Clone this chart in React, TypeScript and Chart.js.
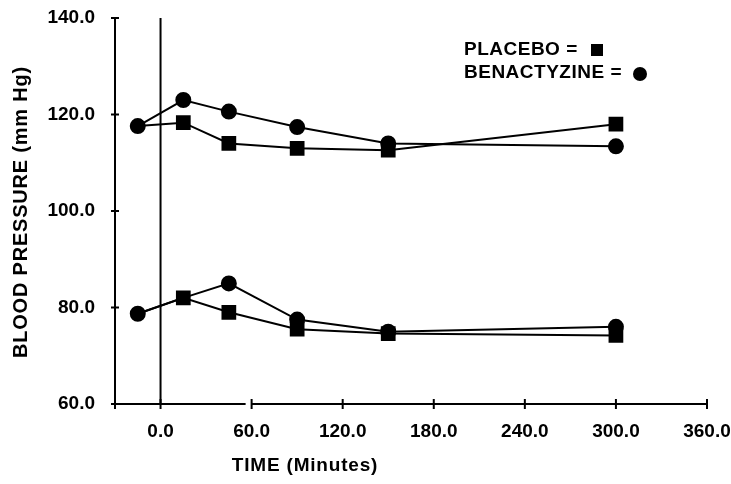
import React, { useEffect, useRef } from "react";
import { Chart, registerables } from "chart.js";

Chart.register(...registerables);

// Sampling times (minutes relative to dosing)
const times = [-15, 15, 45, 90, 150, 300];

// Systolic readings
const placeboSystolic = [117.6, 118.3, 114.0, 113.0, 112.6, 118.0];
const benactyzineSystolic = [117.6, 123.0, 120.6, 117.4, 114.0, 113.4];

// Diastolic readings
const placeboDiastolic = [78.7, 82.0, 79.0, 75.5, 74.6, 74.2];
const benactyzineDiastolic = [78.7, 82.0, 85.0, 77.5, 75.0, 76.0];

const xTicks = [-30, 0, 60, 120, 180, 240, 300, 360];
const yTicks = [60, 80, 100, 120, 140];

const FONT = '"Liberation Sans", Arial, Helvetica, sans-serif';

const toPoints = (vals: number[]) => vals.map((y, i) => ({ x: times[i], y }));

const axesPlugin = {
  id: "paperAxes",
  afterDraw(chart: any) {
    const { ctx, chartArea, scales } = chart;
    const xs = scales.x;
    const ys = scales.y;
    const left = chartArea.left;
    const right = chartArea.right;
    const top = chartArea.top;
    const bottom = chartArea.bottom;
    ctx.save();
    ctx.strokeStyle = "#000";
    ctx.fillStyle = "#000";
    ctx.lineWidth = 2;
    ctx.lineCap = "butt";

    // y axis
    ctx.beginPath();
    ctx.moveTo(left, top);
    ctx.lineTo(left, bottom);
    ctx.stroke();
    yTicks.forEach((v) => {
      const py = ys.getPixelForValue(v);
      ctx.beginPath();
      ctx.moveTo(left - 4, py);
      ctx.lineTo(left + 4, py);
      ctx.stroke();
    });

    // x axis, with a small break before the 60 tick
    const x60 = xs.getPixelForValue(60);
    ctx.beginPath();
    ctx.moveTo(xs.getPixelForValue(-30) - 2, bottom);
    ctx.lineTo(x60 - 6, bottom);
    ctx.moveTo(x60, bottom);
    ctx.lineTo(right, bottom);
    ctx.stroke();
    xTicks.forEach((v) => {
      const px = xs.getPixelForValue(v);
      ctx.beginPath();
      ctx.moveTo(px, bottom - 5);
      ctx.lineTo(px, bottom + 5);
      ctx.stroke();
    });

    // dosing line at time zero
    const x0 = xs.getPixelForValue(0);
    ctx.beginPath();
    ctx.moveTo(x0, top);
    ctx.lineTo(x0, bottom);
    ctx.stroke();

    // axis titles
    ctx.textAlign = "center";
    ctx.textBaseline = "middle";
    ctx.font = `bold 19px ${FONT}`;
    (ctx as any).letterSpacing = "0.8px";
    ctx.fillText("TIME (Minutes)", 305, 466);

    ctx.save();
    ctx.font = `bold 20px ${FONT}`;
    ctx.translate(21, 212);
    ctx.rotate(-Math.PI / 2);
    ctx.fillText("BLOOD PRESSURE (mm Hg)", 0, 0);
    ctx.restore();

    // key
    ctx.font = `bold 19px ${FONT}`;
    (ctx as any).letterSpacing = "0.5px";
    ctx.textAlign = "left";
    ctx.fillText("PLACEBO =", 464, 50);
    ctx.fillText("BENACTYZINE =", 464, 73);
    ctx.fillRect(591, 44, 12, 12);
    ctx.beginPath();
    ctx.arc(640, 74, 7, 0, Math.PI * 2);
    ctx.fill();

    ctx.restore();
  },
};

export default function App() {
  const canvasRef = useRef<HTMLCanvasElement | null>(null);

  useEffect(() => {
    if (!canvasRef.current) return;
    const common = {
      borderColor: "#000",
      backgroundColor: "#000",
      pointBorderColor: "#000",
      pointBackgroundColor: "#000",
      borderWidth: 2,
      showLine: true,
      tension: 0,
    };
    // circles are listed first so they sit on top of the squares
    const chart = new Chart(canvasRef.current, {
      type: "scatter",
      data: {
        datasets: [
          { ...common, label: "BENACTYZINE", data: toPoints(benactyzineSystolic), pointStyle: "circle", pointRadius: 7 },
          { ...common, label: "BENACTYZINE", data: toPoints(benactyzineDiastolic), pointStyle: "circle", pointRadius: [7, 5, 7, 7, 7, 7] },
          { ...common, label: "PLACEBO", data: toPoints(placeboSystolic), pointStyle: "rect", pointRadius: [6, 9, 9, 9, 9, 9] },
          { ...common, label: "PLACEBO", data: toPoints(placeboDiastolic), pointStyle: "rect", pointRadius: [6, 9, 9, 9, 9, 9] },
        ],
      },
      options: {
        animation: false,
        responsive: false,
        layout: { padding: { top: 18, right: 24, left: 0, bottom: 0 } },
        plugins: { legend: { display: false }, tooltip: { enabled: false } },
        scales: {
          x: {
            type: "linear",
            min: -30,
            max: 360,
            grid: { display: false },
            border: { display: false },
            afterBuildTicks: (scale: any) => {
              scale.ticks = xTicks.map((value) => ({ value }));
            },
            afterFit: (scale: any) => {
              scale.height = 80;
              scale.paddingLeft = 0;
              scale.paddingRight = 0;
            },
            ticks: {
              autoSkip: false,
              maxRotation: 0,
              padding: 8,
              color: "#000",
              font: { family: FONT, size: 19, weight: "bold" },
              callback: (v: any) => (Number(v) < 0 ? "" : Number(v).toFixed(1)),
            },
          },
          y: {
            type: "linear",
            min: 60,
            max: 140,
            grid: { display: false },
            border: { display: false },
            afterBuildTicks: (scale: any) => {
              scale.ticks = yTicks.map((value) => ({ value }));
            },
            afterFit: (scale: any) => {
              scale.width = 115;
              scale.paddingTop = 0;
              scale.paddingBottom = 0;
            },
            ticks: {
              padding: 12,
              color: "#000",
              font: { family: FONT, size: 19, weight: "bold" },
              callback: (v: any) => Number(v).toFixed(1),
            },
          },
        },
      },
      plugins: [axesPlugin],
    });
    return () => chart.destroy();
  }, []);

  return (
    <div style={{ position: "fixed", left: 0, top: 0, width: 731, height: 484, background: "#fff" }}>
      <canvas ref={canvasRef} width={731} height={484} />
    </div>
  );
}
